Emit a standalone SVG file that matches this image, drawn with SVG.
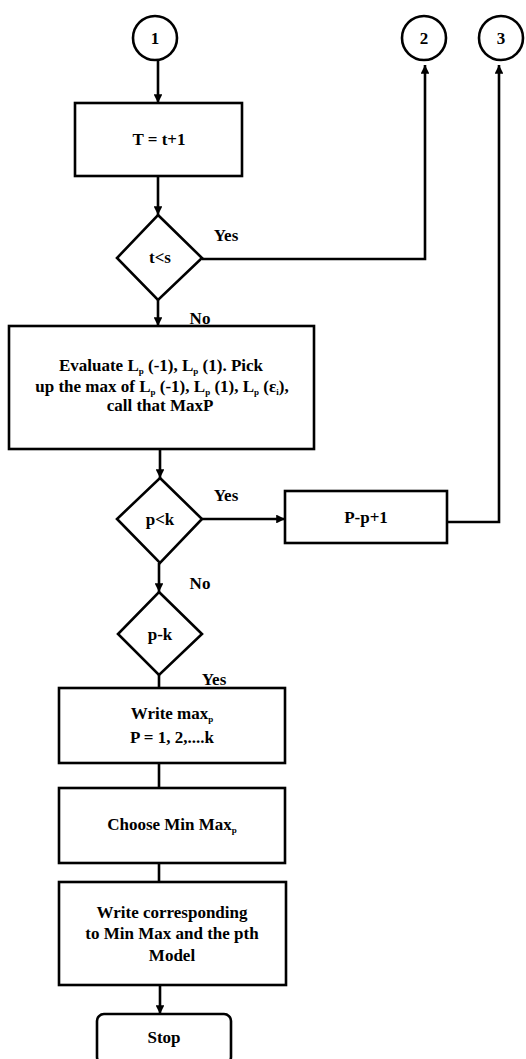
<svg xmlns="http://www.w3.org/2000/svg" width="526" height="1059" viewBox="0 0 526 1059">
<defs>
<marker id="ah" viewBox="0 0 10 10" refX="10" refY="5" markerWidth="3.4" markerHeight="3.4" markerUnits="strokeWidth" orient="auto">
<path d="M0,0 L10,5 L0,10 z" fill="#000"/>
</marker>
<style>
.s{fill:#fff;stroke:#000;stroke-width:2.6}
.c{fill:none;stroke:#000;stroke-width:2.6}
.t{font-size:17px;font-weight:bold;fill:#000;text-anchor:middle}
.sub{font-size:9px}
</style>
</defs>
<rect width="526" height="1059" fill="#fff"/>
<g font-family="Liberation Serif, serif">
<g id="connectors">
<path class="c" d="M158,61 V103" marker-end="url(#ah)"/>
<path class="c" d="M158,176 V215" marker-end="url(#ah)"/>
<path class="c" d="M202,259 H425 V65" marker-end="url(#ah)"/>
<path class="c" d="M158,300 V326" marker-end="url(#ah)"/>
<path class="c" d="M160,449 V478" marker-end="url(#ah)"/>
<path class="c" d="M202,519 H285" marker-end="url(#ah)"/>
<path class="c" d="M447,522 H499 V65" marker-end="url(#ah)"/>
<path class="c" d="M159,563 V592" marker-end="url(#ah)"/>
<path class="c" d="M159,675 V688"/>
<path class="c" d="M159,763 V788"/>
<path class="c" d="M159,863 V882"/>
<path class="c" d="M160,985 V1014" marker-end="url(#ah)"/>
<text class="t" x="226" y="241">Yes</text>
<text class="t" x="200" y="324">No</text>
<text class="t" x="226" y="501">Yes</text>
<text class="t" x="200" y="589">No</text>
<text class="t" x="214" y="685">Yes</text>
</g>
<g id="c1"><circle class="s" cx="155" cy="38" r="22"/><text class="t" x="155" y="44">1</text></g>
<g id="c2"><circle class="s" cx="424" cy="38" r="22"/><text class="t" x="424" y="44">2</text></g>
<g id="c3"><circle class="s" cx="501" cy="38" r="22"/><text class="t" x="501" y="44">3</text></g>
<g id="n1"><rect class="s" x="75" y="103" width="167" height="73"/><text class="t" x="159" y="145">T = t+1</text></g>
<g id="d1"><path class="s" d="M158,215 L202,258 L158,300 L117,258 Z"/><text class="t" x="160" y="263">t&lt;s</text></g>
<g id="n2"><rect class="s" x="9" y="326" width="305" height="123"/>
<text class="t" x="161" y="371">Evaluate L<tspan class="sub" dy="3">p</tspan><tspan dy="-3"> (-1), L</tspan><tspan class="sub" dy="3">p</tspan><tspan dy="-3"> (1). Pick</tspan></text>
<text class="t" x="162" y="392">up the max of L<tspan class="sub" dy="3">p</tspan><tspan dy="-3"> (-1), L</tspan><tspan class="sub" dy="3">p</tspan><tspan dy="-3"> (1), L</tspan><tspan class="sub" dy="3">p</tspan><tspan dy="-3"> (ε</tspan><tspan class="sub" dy="3">i</tspan><tspan dy="-3">),</tspan></text>
<text class="t" x="160" y="411">call that MaxP</text>
</g>
<g id="d2"><path class="s" d="M160,478 L202,519 L160,563 L117,519 Z"/><text class="t" x="160" y="525">p&lt;k</text></g>
<g id="n3"><rect class="s" x="285" y="491" width="162" height="52"/><text class="t" x="366" y="523">P-p+1</text></g>
<g id="d3"><path class="s" d="M159,592 L202,634 L159,675 L118,634 Z"/><text class="t" x="160" y="640">p-k</text></g>
<g id="n4"><rect class="s" x="59" y="688" width="226" height="75"/>
<text class="t" x="172" y="719">Write max<tspan class="sub" dy="3">p</tspan></text>
<text class="t" x="172" y="743">P = 1, 2,....k</text>
</g>
<g id="n5"><rect class="s" x="59" y="788" width="226" height="75"/><text class="t" x="172" y="830">Choose Min Max<tspan class="sub" dy="3">p</tspan></text></g>
<g id="n6"><rect class="s" x="59" y="882" width="227" height="103"/>
<text class="t" x="172" y="918">Write corresponding</text>
<text class="t" x="172" y="939">to Min Max and the pth</text>
<text class="t" x="172" y="961">Model</text>
</g>
<g id="stop"><rect class="s" x="97" y="1014" width="134" height="50" rx="7"/><text class="t" x="164" y="1043">Stop</text></g>
</g>
</svg>
